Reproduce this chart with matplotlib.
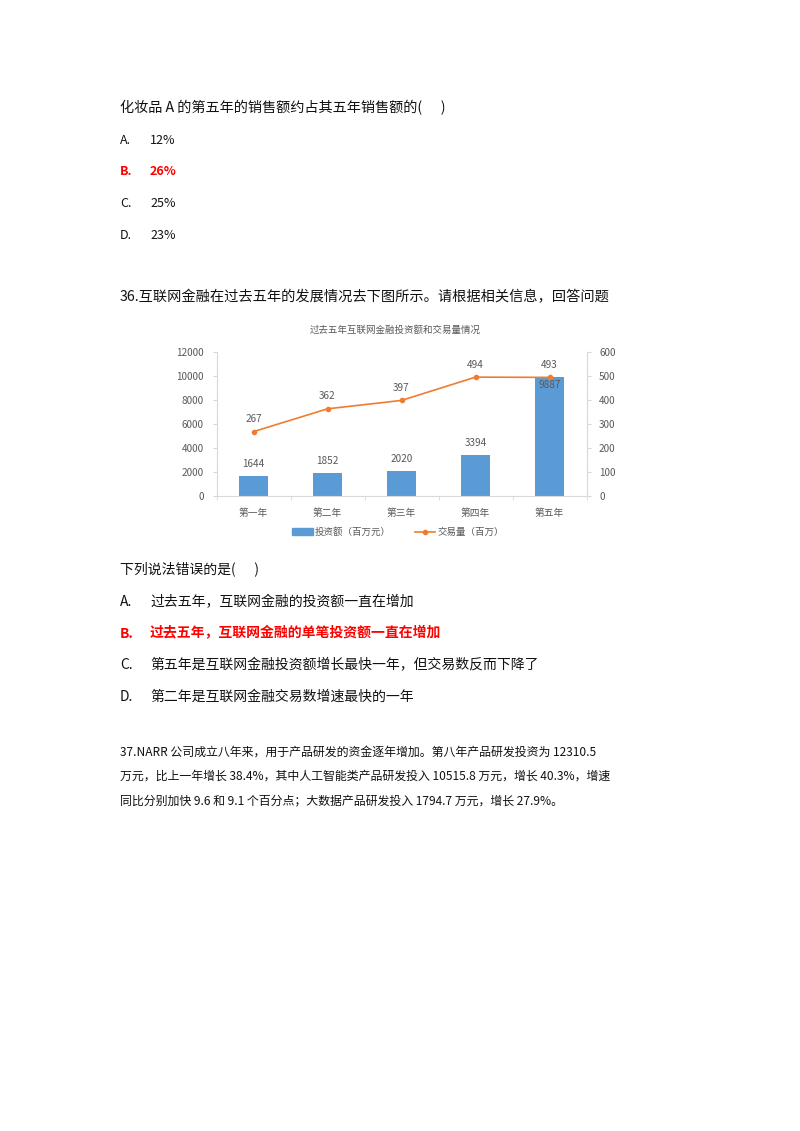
import matplotlib.pyplot as plt
from matplotlib.lines import Line2D
from matplotlib.patches import Patch

plt.rcParams['font.family'] = ['Noto Sans CJK SC', 'DejaVu Sans']

W, H = 800, 1131

# chart data
years = ['第一年', '第二年', '第三年', '第四年', '第五年']
invest = [1644, 1852, 2020, 3394, 9887]      # 投资额（百万元）
volume = [267, 362, 397, 494, 493]           # 交易量（百万）
left_ticks = [0, 2000, 4000, 6000, 8000, 10000, 12000]
right_ticks = [0, 100, 200, 300, 400, 500, 600]

# page text
q1 = '化妆品 A 的第五年的销售额约占其五年销售额的(      )'
q1_opts = [('A.', '12%'), ('B.', '26%'), ('C.', '25%'), ('D.', '23%')]
q36 = '36.互联网金融在过去五年的发展情况去下图所示。请根据相关信息，回答问题'
q36b = '下列说法错误的是(      )'
q36_opts = [('A.', '过去五年，互联网金融的投资额一直在增加'),
            ('B.', '过去五年，互联网金融的单笔投资额一直在增加'),
            ('C.', '第五年是互联网金融投资额增长最快一年，但交易数反而下降了'),
            ('D.', '第二年是互联网金融交易数增速最快的一年')]
answer = 'B.'
q37 = ['37.NARR 公司成立八年来，用于产品研发的资金逐年增加。第八年产品研发投资为 12310.5',
       '万元，比上一年增长 38.4%，其中人工智能类产品研发投入 10515.8 万元，增长 40.3%，增速',
       '同比分别加快 9.6 和 9.1 个百分点；大数据产品研发投入 1794.7 万元，增长 27.9%。']

fig = plt.figure(figsize=(W / 100, H / 100), dpi=100)


def put(x, y, s, **kw):
    fig.text(x / W, 1 - y / H, s, va='center', ha='left', **kw)


def options(opts, y0, step, size):
    for i, (k, v) in enumerate(opts):
        y = y0 + i * step
        if k == answer:
            put(120, y, k, fontsize=size, color='#ff0000', fontweight='bold')
            put(150, y, v, fontsize=size, color='#ff0000', fontweight='bold')
        else:
            put(120, y, k, fontsize=size, color='#111111')
            put(150, y, v, fontsize=size, color='#111111')


put(120, 108, q1, fontsize=10.2, color='#111111')
options(q1_opts, 140, 31.9, 9)
put(120, 297, q36, fontsize=10.25, color='#111111')
put(120, 569, q36b, fontsize=10, color='#111111')
options(q36_opts, 602, 31.7, 10)
for i, line in enumerate(q37):
    put(120, 752 + i * 24.5, line, fontsize=8.6, color='#111111')

# chart
grey = '#595959'
ax = fig.add_axes([216.5 / W, 1 - 495.7 / H, 370 / W, 144 / H])
x = range(len(years))
ax.bar(x, invest, width=0.4, color='#5b9bd5', zorder=2)
ax.set_xlim(-0.5, 4.5)
ax.set_ylim(0, 12000)
ax.set_yticks(left_ticks)
ax.set_xticks(list(x))
ax.set_xticklabels(years)
ax.set_xticks([i + 0.5 for i in range(-1, 5)], minor=True)
ax.tick_params(axis='x', which='major', length=0, pad=9, labelsize=7, labelcolor=grey)
ax.tick_params(axis='x', which='minor', length=3, color='#d9d9d9')
ax.tick_params(axis='y', length=3, color='#d9d9d9', labelsize=7.2, labelcolor=grey, pad=6)
for s in ['top', 'right']:
    ax.spines[s].set_visible(False)
for s in ['left', 'bottom']:
    ax.spines[s].set_color('#d9d9d9')
for i, v in enumerate(invest):
    if v > 9000:
        ax.text(i, v - 650, str(v), ha='center', va='center', fontsize=7.2, color=grey, zorder=5)
    else:
        ax.text(i, v + 1000, str(v), ha='center', va='center', fontsize=7.2, color=grey)

ax2 = ax.twinx()
ax2.plot(x, volume, color='#ed7d31', lw=1.2, marker='o', ms=3)
ax2.set_ylim(0, 600)
ax2.set_yticks(right_ticks)
ax2.tick_params(axis='y', length=3, color='#d9d9d9', labelsize=7.2, labelcolor=grey, pad=6)
for s in ['top', 'left', 'bottom']:
    ax2.spines[s].set_visible(False)
ax2.spines['right'].set_color('#d9d9d9')
for i, v in enumerate(volume):
    ax2.text(i, v + 52, str(v), ha='center', va='center', fontsize=7.2, color=grey)

fig.text(395 / W, 1 - 330 / H, '过去五年互联网金融投资额和交易量情况', ha='center', va='center',
         fontsize=6.8, color=grey)

handles = [Patch(color='#5b9bd5'),
           Line2D([], [], color='#ed7d31', marker='o', ms=3, lw=1.2)]
fig.legend(handles, ['投资额（百万元）', '交易量（百万）'], loc='center',
           bbox_to_anchor=(398 / W, 1 - 532 / H), ncol=2, frameon=False,
           fontsize=6.8, labelcolor=grey, handlelength=2.2, handletextpad=0.2,
           columnspacing=2.5)

fig.savefig('out.png', dpi=100, facecolor='white')
